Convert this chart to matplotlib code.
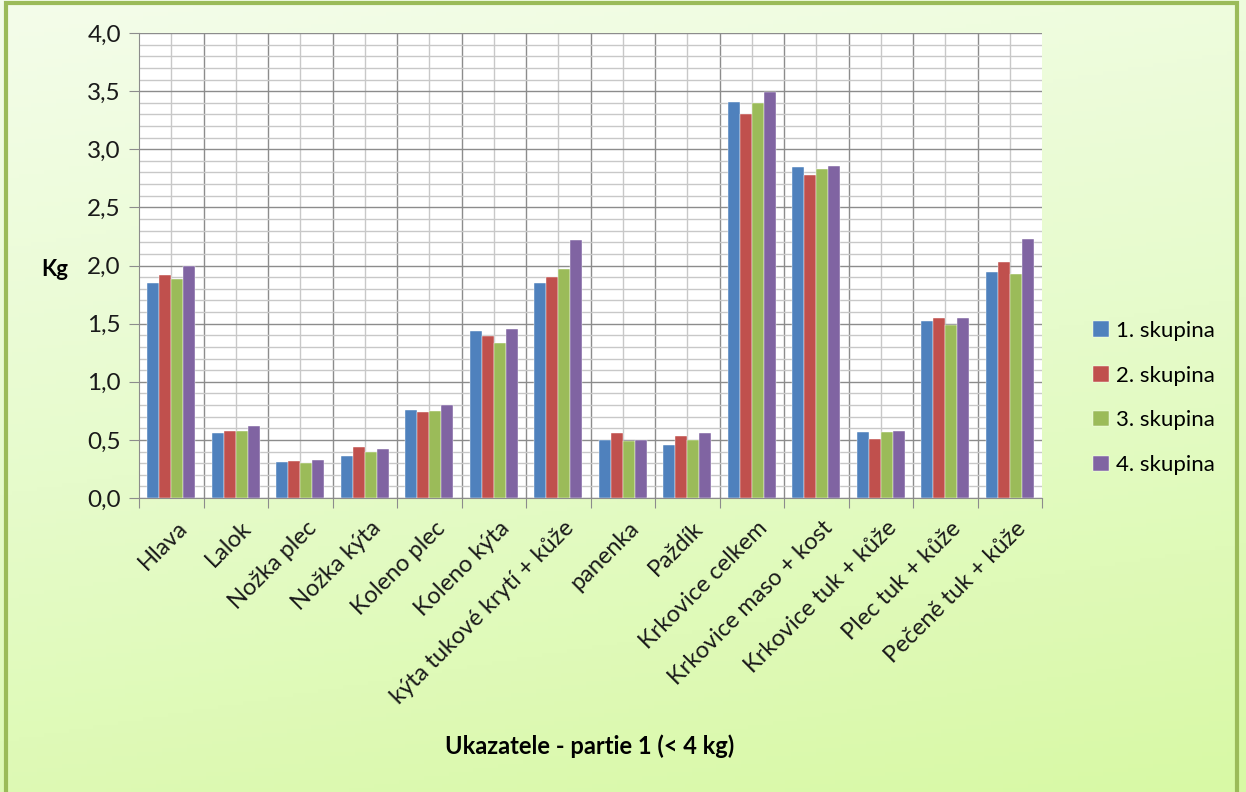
import numpy as np
import matplotlib
matplotlib.use('Agg')
import matplotlib.pyplot as plt
from matplotlib.colors import LinearSegmentedColormap
from matplotlib.patches import Rectangle
from matplotlib.ticker import MultipleLocator, FuncFormatter

categories = ['Hlava', 'Lalok', 'Nožka plec', 'Nožka kýta', 'Koleno plec', 'Koleno kýta',
              'kýta tukové krytí + kůže', 'panenka', 'Paždík', 'Krkovice celkem',
              'Krkovice maso + kost', 'Krkovice tuk + kůže', 'Plec tuk + kůže', 'Pečeně tuk + kůže']
series_names = ['1. skupina', '2. skupina', '3. skupina', '4. skupina']
skupina1 = [1.85, 0.56, 0.31, 0.36, 0.76, 1.44, 1.85, 0.50, 0.46, 3.41, 2.85, 0.57, 1.52, 1.94]
skupina2 = [1.92, 0.58, 0.32, 0.44, 0.74, 1.39, 1.90, 0.56, 0.53, 3.30, 2.78, 0.51, 1.55, 2.03]
skupina3 = [1.88, 0.58, 0.30, 0.40, 0.75, 1.33, 1.97, 0.49, 0.50, 3.40, 2.83, 0.57, 1.49, 1.93]
skupina4 = [2.00, 0.62, 0.33, 0.42, 0.80, 1.45, 2.22, 0.50, 0.56, 3.49, 2.86, 0.58, 1.55, 2.23]
colors = ['#4F81BD', '#C0504D', '#9BBB59', '#8064A2']

plt.rcParams['font.family'] = ['Lato', 'DejaVu Sans']

fig = plt.figure(figsize=(12.46, 7.92), dpi=100)

# background gradient + border
bg = fig.add_axes([0, 0, 1, 1], zorder=-10)
bg.set_axis_off()
cmap = LinearSegmentedColormap.from_list('g', ['#F4FDEA', '#E6FBCB', '#D8F9A5'])
yy, xx = np.mgrid[0:1:200j, 0:1:200j]
grad = 0.8 * yy + 0.2 * xx
bg.imshow(grad, cmap=cmap, extent=[0, 1, 0, 1], aspect='auto', origin='upper')
bg.add_patch(Rectangle((0.005, -0.01), 0.988, 1.006, fill=False, edgecolor='#9BBB59',
                       linewidth=3, transform=bg.transAxes))
bg.set_xlim(0, 1); bg.set_ylim(0, 1)

ax = fig.add_axes([139/1246, 1 - 498/792, (1042-139)/1246, (498-33)/792])
ax.set_facecolor('white')

x = np.arange(len(categories))
w = 0.1875
data = [skupina1, skupina2, skupina3, skupina4]
for i, (vals, c, name) in enumerate(zip(data, colors, series_names)):
    ax.bar(x + (i - 1.5) * w, vals, width=w, color=c, label=name, zorder=3,
           edgecolor='white', linewidth=0.3)

ax.set_xlim(-0.5, len(categories) - 0.5)
ax.set_ylim(0, 4.0)
ax.yaxis.set_major_locator(MultipleLocator(0.5))
ax.yaxis.set_minor_locator(MultipleLocator(0.1))
ax.yaxis.set_major_formatter(FuncFormatter(lambda v, p: f'{v:.1f}'.replace('.', ',')))
ax.grid(which='major', axis='y', color='#8C8C8C', linewidth=1.0, zorder=0)
ax.grid(which='minor', axis='y', color='#C8C8C8', linewidth=1.0, zorder=0)

# vertical grid: category boundaries (dark) and centres (light)
for b in np.arange(0.5, len(categories) - 0.5, 1.0):
    ax.axvline(b, color='#8C8C8C', linewidth=1.0, zorder=0)
for cx in x:
    ax.axvline(cx, color='#C8C8C8', linewidth=1.0, zorder=0)

ax.set_xticks(np.arange(-0.5, len(categories), 1.0))
ax.set_xticklabels([])
ax.set_xticks(x + 0.08, minor=True)
ax.set_xticklabels(categories, minor=True, rotation=45, ha='right', va='top',
                   rotation_mode='anchor', fontsize=17, color='#1a1a1a')
ax.tick_params(axis='x', which='major', length=7, color='#8C8C8C', direction='out')
ax.tick_params(axis='x', which='minor', length=0, pad=14)
ax.tick_params(axis='y', which='major', length=7, color='#8C8C8C', labelsize=17.5,
               labelcolor='#1a1a1a', pad=6)
ax.tick_params(axis='y', which='minor', length=0)
for s in ['top', 'right']:
    ax.spines[s].set_visible(False)
for s in ['left', 'bottom']:
    ax.spines[s].set_color('#8C8C8C')

fig.text(55/1246, 1 - 270/792, 'Kg', fontsize=16, fontweight='bold', ha='center', va='center')
fig.text(590/1246, 1 - 746/792, 'Ukazatele - partie 1 (< 4 kg)', fontsize=17,
         fontweight='bold', ha='center', va='center')

fig.legend(loc='center left', bbox_to_anchor=(1073/1246, 1 - 398/792), frameon=False,
           fontsize=16, handlelength=0.7, handleheight=0.7, handletextpad=0.35,
           labelspacing=1.12)

fig.savefig('out.png', dpi=100)
